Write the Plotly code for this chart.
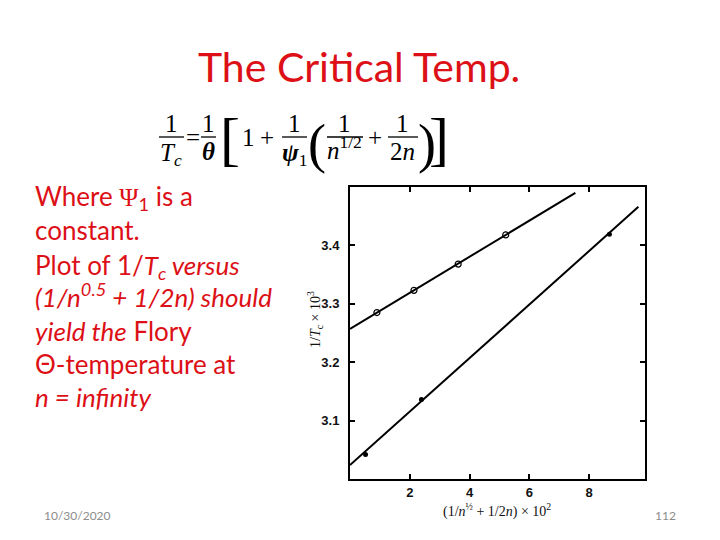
import plotly.graph_objects as go

# ---- data ----
upper_x = [0.90, 2.14, 3.62, 5.21]
upper_y = [3.285, 3.323, 3.368, 3.418]
lower_x = [0.52, 2.39, 8.68]
lower_y = [3.042, 3.136, 3.419]
upper_fit_x = [0.0, 7.54]
upper_fit_y = [3.257, 3.490]
lower_fit_x = [0.0, 9.65]
lower_fit_y = [3.024, 3.466]
x_ticks = [2, 4, 6, 8]
y_ticks = [3.1, 3.2, 3.3, 3.4]

title_text = "The Critical Temp."
body_lines = [
    "Where <span style='font-family:Liberation Serif'>Ψ</span><sub>1</sub> is a",
    "constant.",
    "Plot of 1/<i>T<sub>c</sub> versus</i>",
    "<i>(1/n<sup>0.5</sup> + 1/2n) should</i>",
    "<i>yield the</i> Flory",
    "Θ-temperature at",
    "<i>n = infinity</i>",
]
footer_date = "10/30/2020"
footer_page = "112"

RED = "#DC1016"
OFF = 8                      # default page margin of the html body
W, H = 720 - OFF, 540 - OFF  # figure size
L, R, T, B = 350, 645, 187, 479   # plot area in page pixels


def px(x):
    return (x - L) / (R - L)


def py(y):
    return (B - y) / (B - T)


fig = go.Figure()
fig.add_trace(go.Scatter(x=upper_fit_x, y=upper_fit_y, mode="lines",
                         line=dict(color="black", width=2), showlegend=False))
fig.add_trace(go.Scatter(x=lower_fit_x, y=lower_fit_y, mode="lines",
                         line=dict(color="black", width=2), showlegend=False))
fig.add_trace(go.Scatter(x=upper_x, y=upper_y, mode="markers",
                         marker=dict(symbol="circle-open", size=6, color="black",
                                     line=dict(width=1.2, color="black")),
                         showlegend=False))
fig.add_trace(go.Scatter(x=lower_x, y=lower_y, mode="markers",
                         marker=dict(symbol="circle", size=5, color="black"),
                         showlegend=False))

axis_common = dict(showgrid=False, zeroline=False, showline=True, linecolor="black",
                   linewidth=2, mirror="allticks", ticks="inside", ticklen=5,
                   tickcolor="black", tickwidth=1.5,
                   tickfont=dict(family="Liberation Sans", size=13, color="#111",
                                 weight="bold"))
fig.update_xaxes(range=[0, 9.87], tickvals=x_ticks, ticktext=[str(v) for v in x_ticks],
                 ticklabelstandoff=0, **axis_common)
fig.update_yaxes(range=[3.0, 3.5], tickvals=y_ticks, ticktext=[f"{v:.1f}" for v in y_ticks],
                 ticklabelstandoff=6, **axis_common)

ann = []
shapes = []


def text(x, y, s, font, **kw):
    d = dict(x=px(x), y=py(y), xref="paper", yref="paper", text=s,
             showarrow=False, font=font, xanchor="center", yanchor="middle")
    d.update(kw)
    ann.append(d)


# title
text(359, 67, title_text, dict(family="Lato", size=41, color=RED))

# body text
body_dy = [0, 0, 3, -2, 0, 0, 0]
for i, line in enumerate(body_lines):
    text(33, 197 + i * 33.4 + body_dy[i], line, dict(family="Lato", size=26, color=RED),
         xanchor="left")

# footer
text(42, 515, footer_date, dict(family="Lato", size=12, color="#8c8c8c"), xanchor="left")
text(678, 515, footer_page, dict(family="Lato", size=12, color="#8c8c8c"), xanchor="right")

# axis titles
text(315, 320, "1/<i>T</i><sub>c</sub> × 10<sup>3</sup>",
     dict(family="Liberation Serif", size=14, color="#111"), textangle=-90)
text(497, 510, "(1/<i>n</i><sup>½</sup> + 1/2<i>n</i>) × 10<sup>2</sup>",
     dict(family="Liberation Serif", size=14, color="#111"))

# equation
EQ = dict(family="Liberation Serif", size=25, color="black")
BIG_SQ = dict(family="Liberation Serif", size=60, color="black")
BIG_PAR = dict(family="Liberation Serif", size=54, color="black")


def frac(cx, x0, x1, num, den, ddy=0):
    text(cx, 124, num, EQ)
    text(cx, 151 + ddy, den, EQ)
    shapes.append(dict(type="line", xref="paper", yref="paper", x0=px(x0), x1=px(x1),
                       y0=py(137), y1=py(137), line=dict(color="black", width=1.3)))


frac(171, 159, 184, "1", "<i>T</i><sub><i>c</i></sub>", 3)
text(193, 137, "=", EQ)
frac(208, 201, 216, "1", "<b><i>θ</i></b>")
text(230, 139, "[", BIG_SQ)
text(248, 137, "1", EQ)
text(267, 137, "+", EQ)
frac(294, 282, 307, "1", "<b><i>ψ</i></b><sub>1</sub>", 3)
text(317, 144, "(", BIG_PAR)
frac(344, 327, 363, "1", "<i>n</i><sup>1/2</sup>", -3)
text(375, 137, "+", EQ)
frac(402, 388, 418, "1", "2<i>n</i>")
text(427, 144, ")", BIG_PAR)
text(439, 139, "]", BIG_SQ)

fig.update_layout(width=W, height=H,
                  margin=dict(l=L - OFF, r=OFF + W - R, t=T - OFF, b=OFF + H - B),
                  paper_bgcolor="white", plot_bgcolor="white",
                  annotations=ann, shapes=shapes, showlegend=False)

fig.write_html("out.html")
